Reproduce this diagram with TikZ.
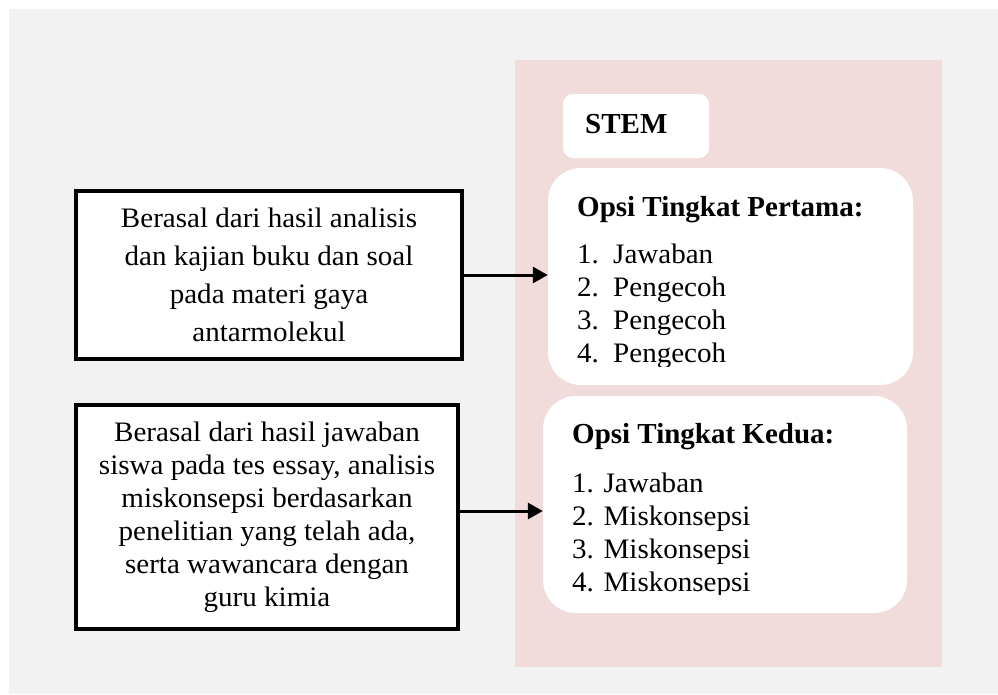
\documentclass[tikz,border=0pt]{standalone}
\usepackage{fontspec}
\setmainfont{Liberation Serif}[FakeStretch=1.03]
\newfontfamily\headfont{Liberation Serif}
\usetikzlibrary{arrows.meta}
\definecolor{bggray}{HTML}{F2F2F2}
\definecolor{panelpink}{HTML}{F2DCDB}

\tikzset{
  SourceStyle/.style = {draw = black, line width = 4pt, fill = white, align = center, inner sep = 0pt, font = \fontsize{28.2}{38}\selectfont},
  OptionStyle/.style = {fill = white, rounded corners = 33pt, inner sep = 0pt},
  HeadStyle/.style = {anchor = base west, inner sep = 0pt, font = \headfont\bfseries\fontsize{29}{34}\selectfont},
  ItemStyle/.style = {anchor = base west, inner sep = 0pt, font = \fontsize{28.2}{33}\selectfont},
  ArrowStyle/.style = {line width = 3pt, -{Triangle[length=15pt,width=16pt]}}
}

\begin{document}
\begin{tikzpicture}[x=1pt,y=-1pt]
\useasboundingbox (0,0) rectangle (998,694);
   \fill[white] (0,0) rectangle (998,694);
   \fill[bggray] (9,9) rectangle (998,694);
   \fill[panelpink] (515,60) rectangle (942,667);

   % left: sources
   \node[SourceStyle, minimum width=386pt, minimum height=168pt] (src1) at (269,275)
      {Berasal dari hasil analisis\\ dan kajian buku dan soal\\ pada materi gaya\\ antarmolekul};
   \node[SourceStyle, minimum width=382pt, minimum height=224pt, font=\fontsize{28.2}{33}\selectfont] (src2) at (267,517)
      {Berasal dari hasil jawaban\\ siswa pada tes essay, analisis\\ miskonsepsi berdasarkan\\ penelitian yang telah ada,\\ serta wawancara dengan\\ guru kimia};

   % right: stem and options
   \node[OptionStyle, rounded corners=10pt, minimum width=146pt, minimum height=64pt] (stem) at (636,126) {};
   \node[OptionStyle, minimum width=365pt, minimum height=217pt] (opt1) at (730.5,276.5) {};
   \node[OptionStyle, minimum width=364pt, minimum height=217pt] (opt2) at (725,504.5) {};

   \node[HeadStyle] (stemtext) at (585,133) {STEM};
   \node[HeadStyle] (head1) at (577,216) {Opsi Tingkat Pertama:};
   \node[HeadStyle] (head2) at (572,443) {Opsi Tingkat Kedua:};

   \begin{scope}
   \clip (520,230) rectangle (930,366);
   \foreach \n/\txt [count=\i from 0] in {1/Jawaban,2/Pengecoh,3/Pengecoh,4/Pengecoh}{
      \node[ItemStyle] (num1-\n) at (577,263+33.3*\i) {\n.};
      \node[ItemStyle] (item1-\n) at (613,263+33.3*\i) {\txt};
   }
   \end{scope}
   \begin{scope}
   \clip (520,460) rectangle (930,594);
   \foreach \n/\txt [count=\i from 0] in {1/Jawaban,2/Miskonsepsi,3/Miskonsepsi,4/Miskonsepsi}
      \node[ItemStyle] (item2-\n) at (572,492+33.3*\i) {\n. \txt};
   \end{scope}

   \draw[ArrowStyle] (src1.east) -- (src1.east -| opt1.west);
   \draw[ArrowStyle] ([yshift=6pt]src2.east) -- ([yshift=6pt]src2.east -| opt2.west);
\end{tikzpicture}
\end{document}
